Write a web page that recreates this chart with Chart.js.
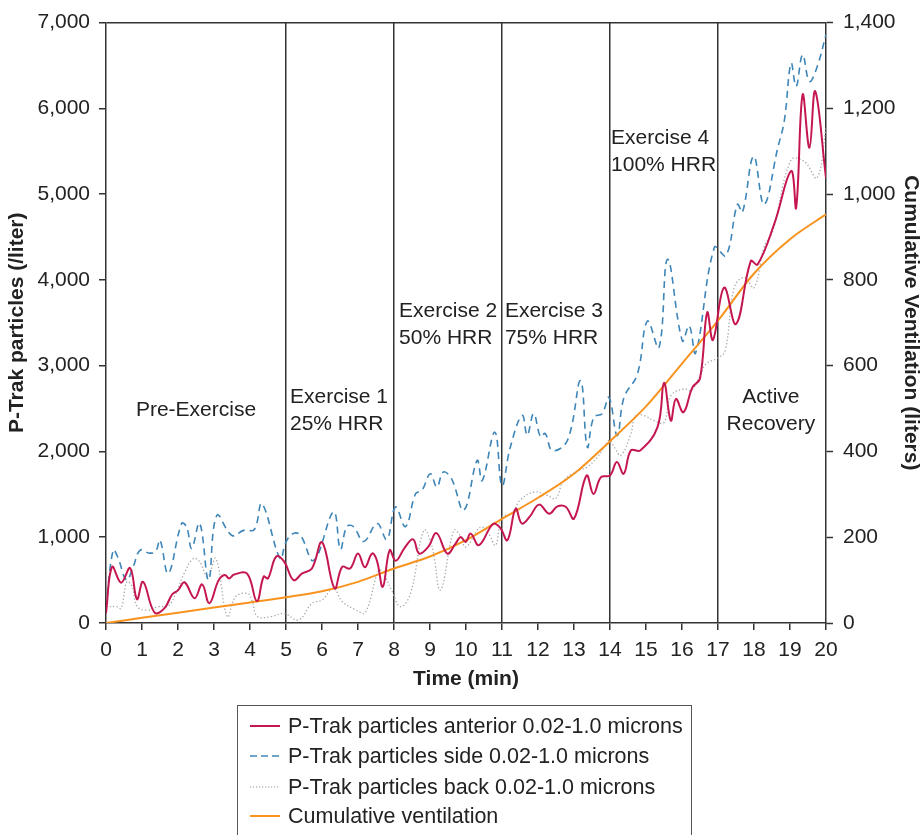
<!DOCTYPE html>
<html lang="en">
<head>
<meta charset="UTF-8">
<title>P-Trak particles and cumulative ventilation</title>
<script src="https://cdn.jsdelivr.net/npm/chart.js"></script>
<style>
  body { margin: 0; background: #fff; font-family: "Liberation Sans", Arial, sans-serif; }
  #wrap { position: relative; width: 923px; height: 835px; overflow: hidden; }
  #chart { position: absolute; left: 0; top: 0; }
  #legend {
    position: absolute; left: 237px; top: 705px; width: 455px; height: 170px;
    border: 1.5px solid #555; box-sizing: border-box;
  }
  .item { position: absolute; left: 12px; height: 30px; display: flex; align-items: center;
          font-size: 21.5px; color: #222; white-space: nowrap; }
  .item svg { margin-right: 8px; }
</style>
</head>
<body>
<div id="wrap">
  <canvas id="chart" width="923" height="835"></canvas>
  <div id="legend">
    <div class="item" style="top:5px">
      <svg width="30" height="4"><line x1="0" y1="2" x2="30" y2="2" stroke="#c5174f" stroke-width="2"/></svg>
      P-Trak particles anterior 0.02-1.0 microns
    </div>
    <div class="item" style="top:35px">
      <svg width="30" height="4"><line x1="0" y1="2" x2="30" y2="2" stroke="#3f86b8" stroke-width="1.5" stroke-dasharray="7,4"/></svg>
      P-Trak particles side 0.02-1.0 microns
    </div>
    <div class="item" style="top:66px">
      <svg width="30" height="4"><line x1="0" y1="2" x2="30" y2="2" stroke="#999" stroke-width="1.2" stroke-dasharray="1.2,1.8"/></svg>
      P-Trak particles back 0.02-1.0 microns
    </div>
    <div class="item" style="top:95px">
      <svg width="30" height="4"><line x1="0" y1="2" x2="30" y2="2" stroke="#f7931e" stroke-width="2"/></svg>
      Cumulative ventilation
    </div>
  </div>
</div>
<script>
// time (min) / particles per liter
const anteriorT = [0, 0.17, 0.42, 0.67, 0.86, 1.03, 1.35, 1.62, 1.84, 2.0, 2.18, 2.46, 2.67, 2.87, 3.13, 3.3, 3.42, 3.56, 3.92, 4.19, 4.38, 4.5, 4.73, 4.95,
  5.21, 5.45, 5.72, 6.0, 6.35, 6.56, 6.78, 7.0, 7.19, 7.39, 7.52, 7.69, 7.88, 8.05, 8.3, 8.53, 8.7, 8.95, 9.18, 9.48, 9.71, 9.85, 9.99, 10.13, 10.36, 10.75, 10.95,
  11.15, 11.38, 11.55, 11.77, 12.03, 12.31, 12.54, 12.77, 13.0, 13.35, 13.54, 13.75, 14.0, 14.19, 14.38, 14.58, 14.84, 15.32, 15.5, 15.69, 15.83, 16.04, 16.29, 16.5,
  16.7, 16.86, 17.17, 17.5, 17.91, 18.1, 18.56, 19.03, 19.17, 19.35, 19.54, 19.7, 20.0];
const anteriorV = [115, 655, 470, 640, 277, 480, 120, 170, 335, 380, 475, 288, 450, 230, 500, 560, 520, 565, 575, 255, 542, 520, 775, 715,
  500, 578, 635, 940, 405, 655, 635, 810, 650, 810, 735, 422, 850, 725, 880, 975, 810, 887, 1048, 810, 926, 1003, 945, 1042, 907, 1155, 1110,
  965, 1333, 1160, 1240, 1380, 1275, 1360, 1355, 1217, 1720, 1505, 1700, 1720, 1876, 1740, 2012, 2012, 2283, 2800, 2360, 2612, 2457, 2747, 2850,
  3620, 3300, 3910, 3485, 4220, 4180, 4650, 5270, 4840, 6160, 5540, 6200, 5190];

const sideT = [0, 0.2, 0.33, 0.57, 0.75, 0.95, 1.2, 1.38, 1.5, 1.73, 2.1, 2.24, 2.38, 2.6, 2.85, 3.08, 3.5, 3.82, 4.12, 4.33, 4.84, 5.0,
  5.21, 5.4, 5.77, 6.32, 6.51, 6.69, 6.87, 7.16, 7.53, 7.8, 8.04, 8.32, 8.6, 8.78, 9.01, 9.19, 9.37, 9.6, 9.94, 10.31, 10.45, 10.8, 11.0,
  11.23, 11.56, 11.7, 11.88, 12.07, 12.2, 12.4, 12.82, 13.18, 13.37, 13.55, 13.78, 13.97, 14.2, 14.39, 14.76, 15.04, 15.36, 15.6, 16.01, 16.2, 16.38,
  16.9, 17.22, 17.54, 17.68, 17.99, 18.28, 18.66, 18.84, 19.03, 19.17, 19.35, 19.54, 19.75, 20.0];
const sideV = [190, 850, 765, 500, 650, 850, 815, 835, 965, 578, 1160, 1120, 870, 1165, 500, 1255, 1020, 1080, 1090, 1390, 750, 945,
  1045, 1025, 730, 1295, 860, 1125, 1125, 950, 1160, 975, 1352, 1125, 1508, 1550, 1740, 1585, 1760, 1680, 1315, 1895, 1660, 2225, 1600,
  2050, 2420, 2190, 2440, 2170, 2210, 2010, 2130, 2825, 2050, 2400, 2440, 2630, 2185, 2630, 2900, 3520, 3210, 4240, 3290, 3465, 3150,
  4380, 4280, 4880, 4790, 5440, 4880, 5540, 5850, 6527, 6256, 6625, 6314, 6480, 6860];

const backT = [0, 0.3, 0.42, 0.58, 0.72, 0.87, 1.15, 1.45, 1.73, 1.94, 2.17, 2.43, 2.6, 2.82, 3.05, 3.37, 3.6, 3.93, 4.05, 4.21, 4.58, 4.95,
  5.35, 5.72, 6.0, 6.32, 6.56, 6.93, 7.2, 7.58, 7.75, 7.93, 8.18, 8.46, 8.83, 9.06, 9.29, 9.66, 9.83, 10.0, 10.4, 10.6, 10.82, 11.0,
  11.28, 11.5, 11.89, 12.26, 12.49, 12.72, 13.14, 13.37, 13.65, 13.84, 13.98, 14.12, 14.3, 14.58, 14.71, 14.94, 15.22, 15.5, 15.69, 16.06, 16.25, 16.48, 16.67,
  17.0, 17.2, 17.45, 17.73, 18.0, 18.28, 18.52, 19.03, 19.4, 19.75, 20.0];
const backV = [190, 190, 170, 480, 430, 190, 150, 190, 200, 345, 578, 752, 715, 540, 752, 74, 306, 345, 267, 74, 74, 110,
  35, 229, 267, 403, 250, 155, 120, 616, 540, 385, 190, 345, 1081, 887, 384, 1081, 1023, 887, 1120, 1062, 907, 1236,
  1275, 1430, 1527, 1488, 1450, 1663, 1780, 1820, 1934, 2050, 2130, 2050, 1955, 2205, 2420, 2420, 2360, 2340, 2650, 2730, 2710, 2864, 3020,
  3090, 3175, 3910, 4030, 3910, 4380, 4570, 5400, 5380, 5190, 5770];

// cumulative ventilation (liters), right axis
const ventT = [0, 1, 2, 3, 4, 5, 6, 7, 8, 9, 10, 11, 12, 13, 14, 15, 16, 17, 18, 19, 20];
const ventL = [0, 12, 24, 36, 48, 60, 74, 96, 127, 155, 193, 243, 292, 348, 424, 505, 605, 705, 815, 895, 953];

const phaseStarts = [5, 8, 11, 14, 17];

const toXY = (ts, vs) => ts.map((t, i) => ({ x: t, y: vs[i] }));

const font = '"Liberation Sans", Arial, sans-serif';
const ink = '#222';
const axisInk = '#333';
const clear = 'rgba(0,0,0,0)';

// phase captions, placed in data units
const phaseNotes = [
  { lines: ['Pre-Exercise'], x: 2.5, y: 2480, align: 'center' },
  { lines: ['Exercise 1', '25% HRR'], x: 5.11, y: 2630, align: 'left' },
  { lines: ['Exercise 2', '50% HRR'], x: 8.14, y: 3640, align: 'left' },
  { lines: ['Exercise 3', '75% HRR'], x: 11.08, y: 3640, align: 'left' },
  { lines: ['Exercise 4', '100% HRR'], x: 14.03, y: 5650, align: 'left' },
  { lines: ['Active', 'Recovery'], x: 18.47, y: 2630, align: 'center' }
];

const phaseText = {
  id: 'phaseText',
  afterDatasetsDraw(chart) {
    const { ctx, scales: { x, y } } = chart;
    ctx.save();
    ctx.font = '21px ' + font;
    ctx.fillStyle = ink;
    ctx.textBaseline = 'middle';
    phaseNotes.forEach(n => {
      ctx.textAlign = n.align;
      n.lines.forEach((s, i) => {
        ctx.fillText(s, x.getPixelForValue(n.x), y.getPixelForValue(n.y) + i * 27);
      });
    });
    ctx.restore();
  }
};

new Chart(document.getElementById('chart'), {
  type: 'line',
  data: {
    datasets: [
      {
        label: 'P-Trak particles anterior 0.02-1.0 microns',
        data: toXY(anteriorT, anteriorV),
        borderColor: '#c5174f', borderWidth: 2, tension: 0.4, yAxisID: 'y'
      },
      {
        label: 'Cumulative ventilation',
        data: toXY(ventT, ventL),
        borderColor: '#f7931e', borderWidth: 2, cubicInterpolationMode: 'monotone', yAxisID: 'y2'
      },
      {
        label: 'P-Trak particles side 0.02-1.0 microns',
        data: toXY(sideT, sideV),
        borderColor: '#3f86b8', borderWidth: 1.6, borderDash: [7, 5], tension: 0.4, yAxisID: 'y'
      },
      {
        label: 'P-Trak particles back 0.02-1.0 microns',
        data: toXY(backT, backV),
        borderColor: '#a6a6a6', borderWidth: 1.3, borderDash: [1.3, 2.2], tension: 0.4, yAxisID: 'y'
      }
    ]
  },
  options: {
    responsive: false,
    animation: false,
    elements: { point: { radius: 0 } },
    layout: { padding: { top: 22, bottom: 132, left: 0, right: 0 } },
    plugins: { legend: { display: false }, tooltip: { enabled: false } },
    scales: {
      x: {
        type: 'linear', min: 0, max: 20,
        afterFit: s => { s.height = 80; },
        ticks: { stepSize: 1, padding: 8, color: ink, font: { family: font, size: 21 } },
        grid: {
          drawOnChartArea: true, tickLength: 7, tickColor: axisInk, tickWidth: 1.5, lineWidth: 1.5,
          color: c => (c.tick && phaseStarts.includes(c.tick.value)) ? axisInk : clear
        },
        border: { display: true, color: axisInk, width: 1.5 },
        title: { display: true, text: 'Time (min)', color: ink, padding: { top: 4, bottom: 11 },
                 font: { family: font, size: 21, weight: 'bold' } }
      },
      y: {
        position: 'left', min: 0, max: 7000,
        afterFit: s => { s.width = 106; },
        ticks: { stepSize: 1000, padding: 9, color: ink, font: { family: font, size: 21 } },
        grid: {
          drawOnChartArea: true, tickLength: 7, tickColor: axisInk, tickWidth: 1.5, lineWidth: 1.5,
          color: c => (c.tick && c.tick.value === 7000) ? axisInk : clear
        },
        border: { display: true, color: axisInk, width: 1.5 },
        title: { display: true, text: 'P-Trak particles (/liter)', color: ink, padding: { top: 5, bottom: 4 },
                 font: { family: font, size: 21, weight: 'bold' } }
      },
      y2: {
        position: 'right', min: 0, max: 1400,
        afterFit: s => { s.width = 97; },
        ticks: { stepSize: 200, padding: 10, color: ink, font: { family: font, size: 21 } },
        grid: { drawOnChartArea: false, tickLength: 7, tickColor: axisInk, tickWidth: 1.5 },
        border: { display: true, color: axisInk, width: 1.5 },
        title: { display: true, text: 'Cumulative Ventilation (liters)', color: ink, padding: { top: 0, bottom: 4 },
                 font: { family: font, size: 21, weight: 'bold' } }
      }
    }
  },
  plugins: [phaseText]
});
</script>
</body>
</html>
